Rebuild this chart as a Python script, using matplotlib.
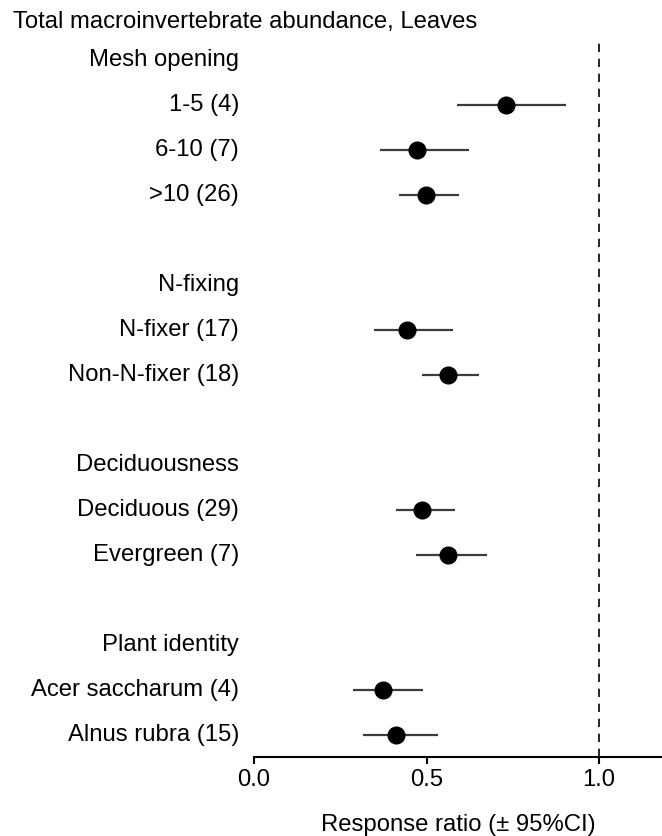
import matplotlib.pyplot as plt

plt.rcParams['font.family'] = ['Liberation Sans', 'DejaVu Sans']

# group headings and the rows they sit on
groups = ["Mesh opening", "N-fixing", "Deciduousness", "Plant identity"]
group_rows = [0, 5, 9, 13]

# moderators (number of studies) and their rows
labels = ["1-5 (4)", "6-10 (7)", ">10 (26)",
          "N-fixer (17)", "Non-N-fixer (18)",
          "Deciduous (29)", "Evergreen (7)",
          "Acer saccharum (4)", "Alnus rubra (15)"]
rows = [1, 2, 3, 6, 7, 10, 11, 14, 15]

# response ratio and 95% CI
ratio = [0.730, 0.472, 0.499, 0.444, 0.561, 0.487, 0.561, 0.374, 0.411]
ci_low = [0.589, 0.364, 0.420, 0.347, 0.487, 0.411, 0.469, 0.288, 0.317]
ci_high = [0.904, 0.622, 0.595, 0.577, 0.653, 0.582, 0.674, 0.491, 0.534]

FS = 17.2

fig = plt.figure(figsize=(6.62, 8.36), dpi=100)
ax = fig.add_axes([254 / 662, 1 - 757 / 836, (662 - 254) / 662, (757 - 42) / 836])

ax.axvline(1.0, color='black', lw=1.2, ls=(0, (5, 4)), zorder=1)
for y, lo, hi in zip(rows, ci_low, ci_high):
    ax.plot([lo, hi], [y, y], color='#3c3c3c', lw=1.6, solid_capstyle='butt', zorder=2)
ax.plot(ratio, rows, 'o', color='black', ms=12, zorder=3)

ax.set_xlim(0, (662 - 254) / 345)
ax.set_ylim((757 - 60) / 45, (42 - 60) / 45)

for y, txt in zip(group_rows + rows, groups + labels):
    ax.annotate(txt, xy=(0, y), xycoords=('axes fraction', 'data'),
                xytext=(-15, 0), textcoords='offset pixels',
                ha='right', va='center', fontsize=FS)

for s in ['left', 'top', 'right']:
    ax.spines[s].set_visible(False)
ax.spines['bottom'].set_linewidth(1.5)
ax.set_yticks([])
ax.set_xticks([0.0, 0.5, 1.0])
ax.set_xticklabels(['0.0', '0.5', '1.0'])
ax.tick_params(axis='x', length=5, width=1.5, labelsize=FS, pad=4)

fig.text(458 / 662, 1 - 825 / 836, "Response ratio (\u00b1 95%CI)",
         ha='center', va='center', fontsize=FS)
fig.text(13 / 662, 1 - 22 / 836, "Total macroinvertebrate abundance, Leaves",
         ha='left', va='center', fontsize=FS)

fig.savefig('out.png', dpi=100)
